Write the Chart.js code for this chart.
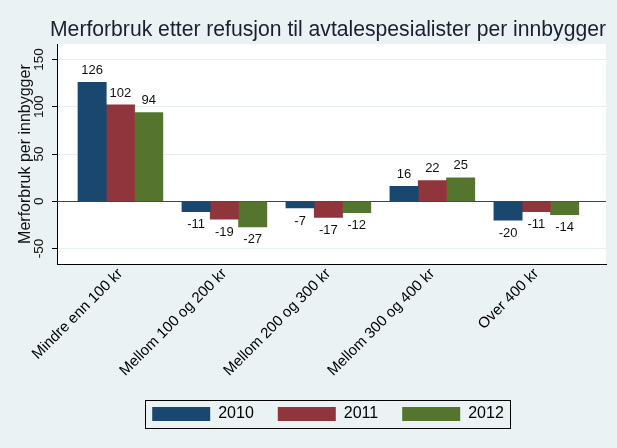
<!DOCTYPE html>
<html>
<head>
<meta charset="utf-8">
<script src="https://cdn.jsdelivr.net/npm/chart.js@4"></script>
<style>
  html, body { margin: 0; padding: 0; background: #EAF2F3; }
  #wrap { width: 617px; height: 448px; }
</style>
</head>
<body>
<div id="wrap"><canvas id="chart" width="617" height="448"></canvas></div>
<script>
// chart data
const categories = ['Mindre enn 100 kr', 'Mellom 100 og 200 kr', 'Mellom 200 og 300 kr', 'Mellom 300 og 400 kr', 'Over 400 kr'];
const years = ['2010', '2011', '2012'];
const values2010 = [126, -11, -7, 16, -20];
const values2011 = [102, -19, -17, 22, -11];
const values2012 = [94, -27, -12, 25, -14];
const yTicks = [-50, 0, 50, 100, 150];

const FONT = "'Liberation Sans', Arial, sans-serif";
const colors = ['#1A476F', '#90353B', '#55752F'];

const series = [values2010, values2011, values2012];

// background, zero line, labels, legend frame
const stataLook = {
    id: 'stataLook',
    beforeDraw(chart) {
        const { ctx, chartArea } = chart;
        ctx.save();
        ctx.fillStyle = '#EAF2F3';
        ctx.fillRect(0, 0, chart.width, chart.height);
        ctx.fillStyle = '#ffffff';
        ctx.fillRect(chartArea.left, chartArea.top, chartArea.right - chartArea.left, chartArea.bottom - chartArea.top);
        ctx.restore();
    },
    beforeDatasetsDraw(chart) {
        const { ctx, chartArea, scales } = chart;
        const y0 = Math.round(scales.y.getPixelForValue(0)) + 0.5;
        ctx.save();
        ctx.strokeStyle = '#A3163C';
        ctx.lineWidth = 1;
        ctx.beginPath();
        ctx.moveTo(chartArea.left, y0);
        ctx.lineTo(chartArea.right, y0);
        ctx.stroke();
        ctx.restore();
    },
    afterDatasetsDraw(chart) {
        const { ctx } = chart;
        ctx.save();
        ctx.font = '13px ' + FONT;
        ctx.fillStyle = '#111111';
        ctx.textAlign = 'center';
        ctx.textBaseline = 'middle';
        chart.data.datasets.forEach((ds, di) => {
            const meta = chart.getDatasetMeta(di);
            meta.data.forEach((bar, i) => {
                const v = ds.data[i].y;
                const y = v >= 0 ? bar.y - 12 : bar.y + 13;
                ctx.fillText(String(v), bar.x, y);
            });
        });
        ctx.restore();
    },
    afterDraw(chart) {
        const { ctx, scales, chartArea } = chart;
        ctx.save();
        // y tick labels, rotated like Stata
        ctx.font = '13.5px ' + FONT;
        ctx.fillStyle = '#111111';
        ctx.textAlign = 'center';
        ctx.textBaseline = 'middle';
        yTicks.forEach(v => {
            ctx.save();
            ctx.translate(39, scales.y.getPixelForValue(v));
            ctx.rotate(-Math.PI / 2);
            ctx.fillText(String(v), 0, 0);
            ctx.restore();
        });
        // y axis title
        ctx.font = '16px ' + FONT;
        ctx.translate(26, (chartArea.top + chartArea.bottom) / 2);
        ctx.rotate(-Math.PI / 2);
        ctx.fillText('Merforbruk per innbygger', 0, 0);
        ctx.restore();

        // legend frame
        const hb = chart.legend.legendHitBoxes;
        if (hb && hb.length) {
            const first = hb[0];
            const last = hb[hb.length - 1];
            const mid = first.top + first.height / 2;
            ctx.save();
            ctx.strokeStyle = '#000000';
            ctx.lineWidth = 1;
            ctx.strokeRect(Math.round(first.left - 7) + 0.5, Math.round(mid - 14) + 0.5,
                Math.round(last.left + last.width - first.left + 13), 28);
            ctx.restore();
        }
    }
};

new Chart(document.getElementById('chart'), {
    type: 'bar',
    data: {
        datasets: years.map((yr, k) => ({
            label: yr,
            data: series[k].map((v, i) => ({ x: i, y: v })),
            backgroundColor: colors[k],
            borderWidth: 0,
            barThickness: 28.3
        }))
    },
    options: {
        responsive: false,
        animation: false,
        layout: { padding: { top: 0, left: 50, right: 11, bottom: 16 } },
        plugins: {
            title: {
                display: true,
                text: 'Merforbruk etter refusjon til avtalespesialister per innbygger',
                color: '#1b1f2e',
                font: { family: FONT, size: 21.8, weight: 'normal' },
                padding: { top: 17, bottom: 1 }
            },
            legend: {
                position: 'bottom',
                labels: {
                    boxWidth: 58,
                    boxHeight: 14,
                    padding: 24,
                    color: '#000000',
                    font: { family: FONT, size: 16 }
                }
            },
            tooltip: { enabled: false }
        },
        scales: {
            x: {
                type: 'linear',
                offset: false,
                min: -0.61,
                max: 4.67,
                afterBuildTicks: scale => {
                    scale.ticks = categories.map((c, i) => ({ value: i }));
                },
                afterFit: scale => { scale.height = 118; },
                ticks: {
                    autoSkip: false,
                    minRotation: 45,
                    maxRotation: 45,
                    padding: -7,
                    color: '#000000',
                    font: { family: FONT, size: 15 },
                    callback: v => categories[v]
                },
                grid: { display: false },
                border: { display: true, color: '#000000', width: 1 }
            },
            y: {
                min: -66.3,
                max: 166.3,
                afterBuildTicks: scale => {
                    scale.ticks = yTicks.map(v => ({ value: v }));
                },
                afterFit: scale => { scale.width = 7; },
                ticks: { display: false },
                grid: {
                    color: '#E6EEF0',
                    tickColor: '#000000',
                    tickLength: 5,
                    lineWidth: 1
                },
                border: { display: true, color: '#000000', width: 1 }
            }
        }
    },
    plugins: [stataLook]
});
</script>
</body>
</html>
